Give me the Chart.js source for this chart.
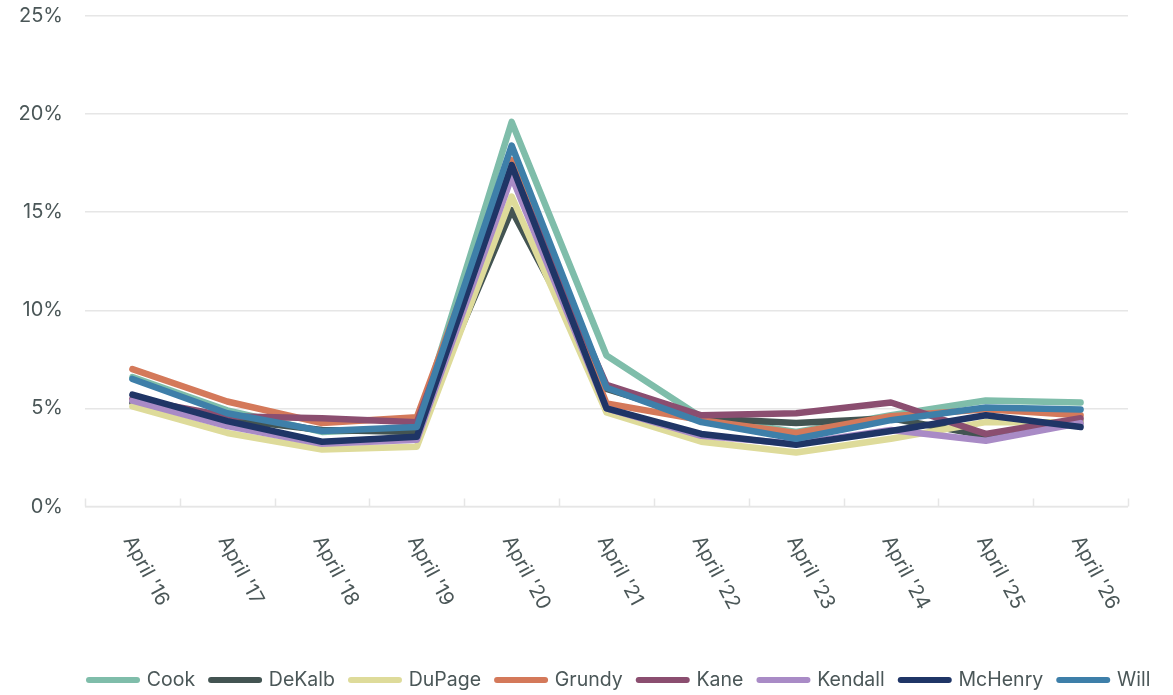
<!DOCTYPE html>
<html>
<head>
<meta charset="utf-8">
<script src="https://cdn.jsdelivr.net/npm/chart.js@4.4.1/dist/chart.umd.min.js"></script>
<style>
  html, body { margin: 0; padding: 0; background: #ffffff; }
  #wrap { width: 1173px; height: 695px; position: relative; }
</style>
</head>
<body>
<div id="wrap"><canvas id="chart"></canvas></div>
<script>
// Categories along the x axis
const categories = ["April '16", "April '17", "April '18", "April '19", "April '20", "April '21",
                    "April '22", "April '23", "April '24", "April '25", "April '26"];

// Percent values per county
const cook    = [6.6, 4.9, 3.8, 4.0, 19.6, 7.7, 4.55, 3.8, 4.65, 5.4, 5.3];
const dekalb  = [5.3, 4.45, 3.9, 3.8, 15.1, 6.0, 4.5, 4.25, 4.5, 3.6, 4.3];
const dupage  = [5.1, 3.75, 2.9, 3.05, 15.8, 4.8, 3.3, 2.75, 3.45, 4.3, 4.3];
const grundy  = [7.0, 5.35, 4.25, 4.55, 17.65, 5.25, 4.4, 3.75, 4.6, 4.95, 4.65];
const kane    = [5.5, 4.6, 4.5, 4.3, 17.2, 6.2, 4.65, 4.75, 5.3, 3.7, 4.5];
const kendall = [5.4, 4.1, 3.2, 3.4, 16.8, 5.0, 3.6, 3.2, 3.9, 3.35, 4.25];
const mchenry = [5.7, 4.35, 3.3, 3.55, 17.4, 5.0, 3.7, 3.15, 3.85, 4.65, 4.05];
const will    = [6.5, 4.75, 3.85, 4.05, 18.4, 6.05, 4.3, 3.45, 4.4, 5.05, 4.95];

const seriesNames = ["Cook", "DeKalb", "DuPage", "Grundy", "Kane", "Kendall", "McHenry", "Will"];
const seriesValues = [cook, dekalb, dupage, grundy, kane, kendall, mchenry, will];

// Y axis range and tick step (percent)
const yMin = 0;
const yMax = 25;
const yStep = 5;

// Styling
const palette = ['#7fbdaa', '#435452', '#dedb9a', '#d4795a', '#8b4e70', '#a98bc6', '#1f3566', '#3e7fa9'];
const FONT = "Inter, 'Noto Sans', sans-serif";
const TEXT = '#4b5758';
const GRID = '#e6e6e6';
const LEGEND_PAD = 16;
const LEGEND_FONT = 19.5;

const datasets = seriesNames.map((name, i) => ({
  label: name,
  data: seriesValues[i],
  borderColor: palette[i],
  backgroundColor: palette[i],
  borderWidth: 6.5,
  borderCapStyle: 'round',
  borderJoinStyle: 'round',
  tension: 0,
  pointRadius: 0,
  pointHoverRadius: 0,
  // later series are painted over earlier ones
  order: seriesNames.length - i
}));

// Category boundary tick marks (pointing up into the plot) and slanted month labels
const axisDecor = {
  id: 'axisDecor',
  beforeDatasetsDraw(chart) {
    const { ctx, chartArea } = chart;
    const x = chart.scales.x;
    const step = x.getPixelForValue(1) - x.getPixelForValue(0);
    ctx.save();
    ctx.strokeStyle = GRID;
    ctx.lineWidth = 1.5;
    ctx.beginPath();
    ctx.moveTo(chartArea.left, chartArea.bottom);
    ctx.lineTo(chartArea.right, chartArea.bottom);
    for (let i = 0; i <= categories.length; i++) {
      const px = Math.round(x.getPixelForValue(i) - step / 2) + 0.5;
      ctx.moveTo(px, chartArea.bottom);
      ctx.lineTo(px, chartArea.bottom - 8);
    }
    ctx.stroke();
    ctx.restore();
  },
  afterDraw(chart) {
    const { ctx, chartArea } = chart;
    const x = chart.scales.x;
    ctx.save();
    ctx.fillStyle = TEXT;
    ctx.font = `20px ${FONT}`;
    ctx.textAlign = 'left';
    ctx.textBaseline = 'middle';
    categories.forEach((label, i) => {
      const px = x.getPixelForValue(i);
      ctx.save();
      ctx.translate(px - 4, chartArea.bottom + 31);
      ctx.rotate(62 * Math.PI / 180);
      ctx.fillText(label, 0, 0);
      ctx.restore();
    });
    ctx.restore();
  }
};

// Legend row starts flush with the plot's left edge
const legendPlacement = {
  id: 'legendPlacement',
  afterLayout(chart) {
    const lg = chart.legend;
    if (!lg) return;
    const dx = chart.chartArea.left + 4 - LEGEND_PAD - lg.left;
    lg.left += dx;
    lg.right += dx;
    const dy = 680 - LEGEND_PAD - LEGEND_FONT / 2 - lg.top;
    lg.top += dy;
    lg.bottom += dy;
  }
};

new Chart(document.getElementById('chart'), {
  type: 'line',
  data: { labels: categories, datasets },
  plugins: [axisDecor, legendPlacement],
  options: {
    responsive: true,
    maintainAspectRatio: false,
    animation: false,
    layout: { padding: { top: 16, right: 45, left: 0, bottom: 0 } },
    plugins: {
      tooltip: { enabled: false },
      legend: {
        position: 'bottom',
        align: 'start',
        labels: {
          usePointStyle: true,
          pointStyle: 'line',
          pointStyleWidth: 48,
          padding: LEGEND_PAD,
          color: TEXT,
          font: { family: FONT, size: LEGEND_FONT },
          sort: (a, b) => a.datasetIndex - b.datasetIndex,
          generateLabels(chart) {
            const base = Chart.defaults.plugins.legend.labels.generateLabels(chart);
            return base.map(item => {
              const ds = chart.data.datasets[item.datasetIndex];
              return Object.assign(item, {
                lineWidth: 6,
                lineCap: 'round',
                strokeStyle: ds.borderColor,
                fillStyle: ds.borderColor
              });
            });
          }
        }
      }
    },
    scales: {
      x: {
        offset: true,
        grid: { display: false },
        border: { display: false },
        ticks: { display: false },
        afterFit(scale) { scale.height = 143; }
      },
      y: {
        min: yMin,
        max: yMax,
        grid: { color: GRID, lineWidth: 1.5, drawTicks: true, tickLength: 22, tickColor: 'rgba(0,0,0,0)' },
        border: { display: false },
        ticks: {
          stepSize: yStep,
          padding: 0,
          color: TEXT,
          font: { family: FONT, size: 20 },
          callback: v => v + '%'
        },
        afterFit(scale) { scale.width = 85; }
      }
    }
  }
});
</script>
</body>
</html>
